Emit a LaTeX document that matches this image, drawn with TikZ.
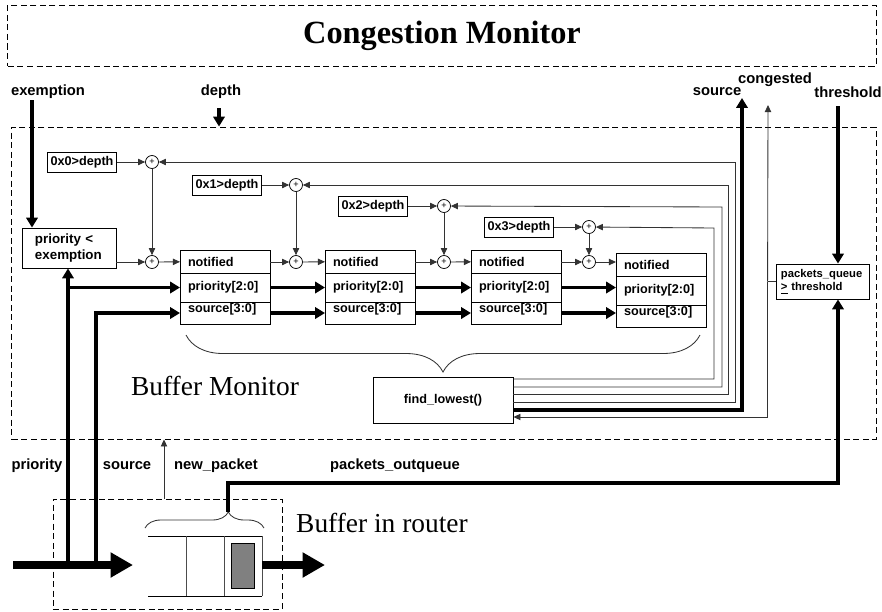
\documentclass[tikz,border=0pt]{standalone}
\usepackage{fontspec}
\setmainfont{Liberation Serif}
\setsansfont{Liberation Sans}
\usetikzlibrary{arrows.meta, positioning, calc, decorations.pathreplacing}
\tikzset{
  labtxt/.style={font=\sffamily\bfseries\fontsize{10.5}{12}\selectfont, inner sep=0pt},
  regrow/.style={
    rectangle, draw, line width=0.6pt, outer sep=0pt,
    minimum width=2.25cm, text width=1.85cm, inner xsep=0.2cm, inner ysep=0pt,
    align=left, font=\sffamily\bfseries\fontsize{9}{10}\selectfont},
  cmpbox/.style={
    rectangle, draw, line width=0.6pt,
    minimum width=1.725cm, minimum height=0.5cm, inner sep=1pt,
    font=\sffamily\bfseries\fontsize{9}{10}\selectfont},
  sumnode/.style={
    circle, draw, line width=0.5pt, minimum size=0.325cm, inner sep=0pt,
    font=\sffamily\fontsize{6.5}{6.5}\selectfont},
  dbox/.style={draw, dashed, dash pattern=on 4.3pt off 2.5pt, line width=0.6pt},
  thinln/.style={draw=black!80, line width=0.6pt},
  thinarr/.style={thinln, -{Triangle[length=5pt,width=4.5pt]}},
  busarr/.style={line width=2.8pt, -{Triangle[length=7pt,width=8pt]}},
  pipearr/.style={line width=5.7pt, -{Triangle[length=16pt,width=17pt]}},
}

\begin{document}
\begin{tikzpicture}[x=0.025cm, y=-0.025cm]
\useasboundingbox (0,0) rectangle (882,612);

% ── Frames ────────────────────────────────────────────────
\node[dbox, minimum width=21.7cm, minimum height=1.525cm,
      font=\bfseries\fontsize{23}{26}\selectfont] (cmon) at (442,35.5) {Congestion Monitor};
\node[dbox, minimum width=21.6cm, minimum height=7.8cm] (bmon) at (444,283) {};
\node[dbox, minimum width=5.725cm, minimum height=2.75cm] (bbuf) at (167.5,554) {};
\node[font=\fontsize{19.5}{22}\selectfont] (bmlab) at (215,386) {Buffer Monitor};
\node[font=\fontsize{19.5}{22}\selectfont] (brlab) at (382,523) {Buffer in router};

% ── Signal labels ─────────────────────────────────────────
\node[labtxt] (lbexm)  at (48,92)   {exemption};
\node[labtxt] (lbdep)  at (221,92)  {depth};
\node[labtxt] (lbsrc)  at (717,92)  {source};
\node[labtxt] (lbcng)  at (775,80)  {congested};
\node[labtxt] (lbthr)  at (848,92)  {threshold};
\node[labtxt] (lbpri)  at (37,466)  {priority};
\node[labtxt] (lbsrcb) at (127,466) {source};
\node[labtxt] (lbnp)   at (216,466) {new\_packet};
\node[labtxt] (lbpoq)  at (395,466) {packets\_outqueue};

% ── Registers ─────────────────────────────────────────────
\foreach \i/\x/\y in {1/180/250, 2/325/250, 3/471/250, 4/616/253} {
  \node[regrow, minimum height=0.575cm, anchor=north west] (n\i) at (\x,\y) {notified};
  \node[regrow, minimum height=0.725cm, below=0pt of n\i] (p\i) {priority[2:0]};
  \node[regrow, minimum height=0.55cm, text depth=0.26cm, below=0pt of p\i] (s\i) {source[3:0]};
}

% ── Depth compare and sum points ──────────────────────────
\foreach \i/\xd/\yd/\xc in {0/82/162/152, 1/227/185/296, 2/373/206/444, 3/519/227/589} {
  \node[cmpbox] (d\i) at (\xd,\yd) {0x\i>depth};
  \node[sumnode] (ct\i) at (\xc,\yd) {+};
  \node[sumnode] (cb\i) at (\xc,262) {+};
}

\node[rectangle, draw, line width=0.6pt, minimum width=2.35cm, minimum height=1cm,
      text width=1.7cm, inner xsep=0.325cm, align=left,
      font=\sffamily\bfseries\fontsize{9.5}{11}\selectfont] (pe) at (69,248) {priority <\\exemption};
\node[rectangle, draw, line width=0.6pt, minimum width=3.5cm, minimum height=1.15cm,
      font=\sffamily\bfseries\fontsize{9}{10}\selectfont] (fl) at (443,400) {find\_lowest()};
\node[rectangle, draw, line width=0.6pt, minimum width=2.325cm, minimum height=0.875cm,
      text width=2.075cm, inner xsep=0.125cm, align=left,
      font=\sffamily\bfseries\fontsize{8}{9.5}\selectfont] (pq) at (822.5,281.5) {packets\_queue\\\underline{>} threshold};

% ── Buffer in router ──────────────────────────────────────
\draw[line width=0.7pt] (148,536) -- (262,536) (148,596) -- (262,596);
\draw[black!70, line width=0.6pt] (186,536) -- (186,596) (224,536) -- (224,596) (262,536) -- (262,596);
\node[rectangle, draw, fill=black!50, line width=0.7pt, minimum width=0.575cm, minimum height=1.125cm] (pkt) at (242.5,565.5) {};
\draw[thinln, decorate, decoration={brace, amplitude=0.4cm, aspect=0.7}] (145,528) -- (264,528);

\coordinate (inL)   at (13,565);
\coordinate (inR)   at (133,565);
\coordinate (jp)    at (68,565);
\coordinate (js)    at (96,565);
\coordinate (qout)  at (262,565);
\coordinate (outR)  at (325,565);
\coordinate (brtip) at (228,512);
\coordinate (np)    at (164,499);
\coordinate (exin)  at (32,100);
\coordinate (dpin)  at (219,108);
\coordinate (thrin) at (838,106);
\coordinate (cgout) at (768,105);
\coordinate (cgj)   at ($(pq.west)+(-8,0)$);

% ── Arrows: packet path ───────────────────────────────────
\draw[pipearr] (inL) -- (inR);
\draw[pipearr] (qout) -- (outR);
\draw[busarr] (jp) -- (jp |- pe.south);
\draw[busarr] (jp |- p1.west) -- (p1.west);
\draw[busarr] (js) |- (s1.west);
\draw[thinarr] (np) -- (np |- bmon.south);
\draw[busarr] (brtip) -- (228,483) -| (pq.south -| thrin);

% ── Arrows: inputs from Congestion Monitor ────────────────
\draw[busarr] (exin) -- (exin |- pe.north);
\draw[busarr] (dpin) -- (dpin |- bmon.north);
\draw[busarr] (thrin) -- (thrin |- pq.north);

% ── Arrows: notified chain ────────────────────────────────
\draw[thinarr] (pe.east |- cb0) -- (cb0);
\draw[thinarr] (cb0) -- (n1);
\draw[thinarr] (n1.east |- cb1) -- (cb1);
\draw[thinarr] (cb1) -- (n2);
\draw[thinarr] (n2.east |- cb2) -- (cb2);
\draw[thinarr] (cb2) -- (n3);
\draw[thinarr] (n3.east |- cb3) -- (cb3);
\draw[thinarr] (cb3) -- (cb3 -| n4.west);
\foreach \i in {0,...,3} {
  \draw[thinarr] (d\i) -- (ct\i);
  \draw[thinarr] (ct\i) -- (cb\i);
}

% ── Arrows: priority / source buses ───────────────────────
\foreach \a/\b in {1/2, 2/3, 3/4} {
  \draw[busarr] (p\a.east) -- (p\a.east -| p\b.west);
  \draw[busarr] (s\a.east) -- (s\a.east -| s\b.west);
}

% ── find_lowest ───────────────────────────────────────────
\draw[thinln, decorate, decoration={brace, mirror, amplitude=0.925cm}] (186,335) -- (700,335);
\foreach \dy/\xv/\yv/\c in {-21/714/228/3, -13/722/207/2, -6/728/185/1, 2/735/162/0}
  \draw[thinarr] ($(fl.east)+(0,\dy)$) -| (\xv,\yv) -- (ct\c);
\draw[busarr] ($(fl.east)+(0,10)$) -| (742,98);

% ── Congested ─────────────────────────────────────────────
\draw[thinln] (pq.west) -- (cgj);
\draw[thinarr] (cgj) -- (cgout);
\draw[thinarr] (cgj) |- ($(fl.east)+(0,17)$);

\end{tikzpicture}
\end{document}
